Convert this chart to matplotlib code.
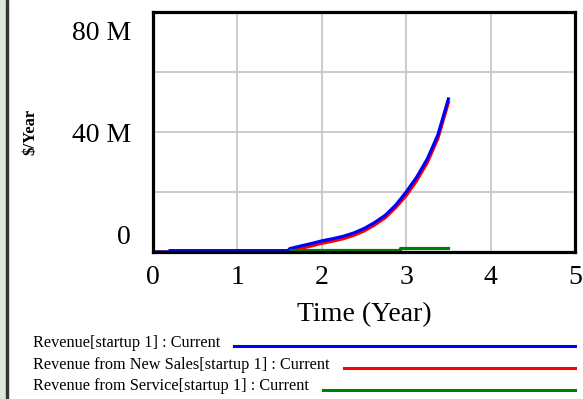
import numpy as np
import matplotlib
matplotlib.use('Agg')
import matplotlib.pyplot as plt
from matplotlib.lines import Line2D
from matplotlib.patches import Rectangle
from matplotlib.transforms import ScaledTranslation

# values (M $/Year)
time = [0.0, 0.18, 0.2, 1.6, 1.62, 1.75, 1.875, 2.0, 2.125, 2.25, 2.375, 2.5, 2.625,
        2.75, 2.875, 3.0, 3.125, 3.25, 3.375, 3.5]
revenue = [0, 0, 0.45, 0.45, 1.1, 2.0, 2.8, 3.7, 4.4, 5.2, 6.3, 7.8, 9.8,
           12.2, 15.6, 20, 25, 31, 39, 51]
new_sales = [0, 0, 0.45, 0.45, 0.3, 1.2, 2.0, 2.9, 3.6, 4.4, 5.5, 7.0, 9.0,
             11.4, 14.8, 18.8, 23.8, 29.8, 37.8, 49.8]
service_time = [0.0, 1.62, 2.93, 3.5]
service = [0, 0.8, 1.3, 1.3]

legend_labels = ['Revenue[startup 1] : Current',
                 'Revenue from New Sales[startup 1] : Current',
                 'Revenue from Service[startup 1] : Current']
colors = ['#0000ff', '#ff0000', '#008000']
y_ticks = [0, 40, 80]
y_ticklabels = ['0', '40 M', '80 M']

plt.rcParams['font.family'] = ['Liberation Serif', 'DejaVu Serif']

W, H = 583, 399
fig = plt.figure(figsize=(W / 100., H / 100.), dpi=100)
ax = fig.add_axes([153. / W, 1 - 252. / H, 422. / W, 240. / H])

ax.plot(time, new_sales, color=colors[1], linewidth=2.3)
ax.plot(time, revenue, color=colors[0], linewidth=2.3)
ax.plot(service_time, service, color=colors[2], linewidth=2.3, drawstyle='steps-post')

ax.set_xlim(0, 5)
ax.set_ylim(0, 80)
ax.set_xticks(range(6))
ax.set_yticks(y_ticks)
ax.set_yticklabels(y_ticklabels)
ax.set_yticks([20, 60], minor=True)
ax.grid(True, which='both', color='#c8c8c8', linewidth=1.3)
ax.set_axisbelow(True)
ax.tick_params(which='both', length=0)
ax.tick_params(axis='x', labelsize=20, pad=9)
ax.tick_params(axis='y', labelsize=20, pad=16)
for s in ['top', 'bottom', 'left', 'right']:
    ax.spines[s].set_linewidth(2.3)
    ax.spines[s].set_color('black')

# vensim puts the end labels inside the plot range
labs = ax.get_yticklabels()
labs[0].set_transform(labs[0].get_transform() + ScaledTranslation(0, 17 / 100., fig.dpi_scale_trans))
labs[2].set_transform(labs[2].get_transform() + ScaledTranslation(0, -18 / 100., fig.dpi_scale_trans))

ax.set_xlabel('Time (Year)', fontsize=20, labelpad=9)
fig.text(30. / W, 1 - 132. / H, '$/Year', rotation=90, fontsize=12, fontweight='bold',
         ha='center', va='center')

# window border strip on the left
fig.patches.append(Rectangle((0, 0), 6. / W, 1, transform=fig.transFigure, color='#dde5dd'))
fig.patches.append(Rectangle((6. / W, 0), 1.5 / W, 1, transform=fig.transFigure, color='#333333'))

# legend rows: text, then a line out to the right edge of the plot
rend = fig.canvas.get_renderer()
row_y = [346, 368, 390]
text_y = [343, 365, 386]
for lab, c, yy, ty in zip(legend_labels, colors, row_y, text_y):
    t = fig.text(33. / W, 1 - ty / H, lab, fontsize=11.7, ha='left', va='center')
    bb = t.get_window_extent(renderer=rend)
    x0 = (bb.x1 + 14) / W
    fig.add_artist(Line2D([x0, 575. / W], [1 - yy / H, 1 - yy / H], color=c,
                          linewidth=2.2, transform=fig.transFigure))

fig.savefig('out.png', dpi=100)
